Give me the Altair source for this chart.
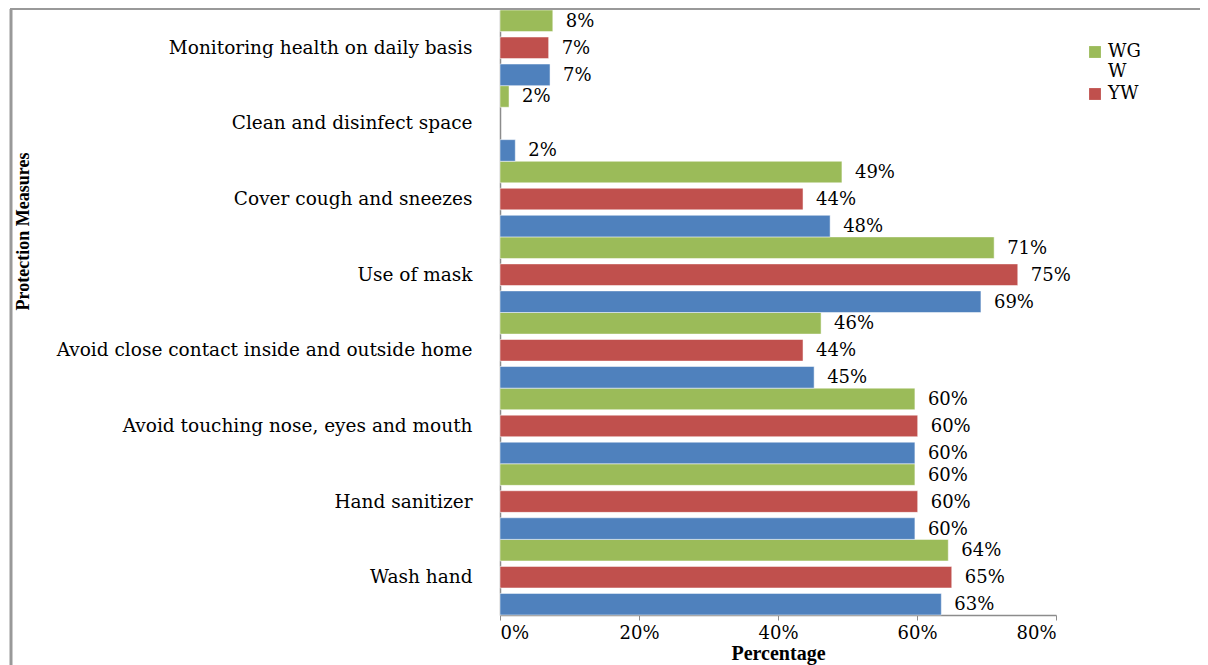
import altair as alt
import pandas as pd

categories = [
    "Monitoring health on daily basis",
    "Clean and disinfect space",
    "Cover cough and sneezes ",
    "Use of mask ",
    "Avoid close contact inside and outside home",
    "Avoid touching nose, eyes and mouth ",
    "Hand sanitizer",
    "Wash hand",
]
series = ["WGW", "YW", "OW"]
colors = ["#9BBB59", "#C0504D", "#4F81BD"]

# values (fractions), None = no bar
wgw_values = [0.076, 0.013, 0.492, 0.711, 0.462, 0.597, 0.597, 0.645]
yw_values = [0.070, None, 0.436, 0.745, 0.436, 0.601, 0.601, 0.650]
ow_values = [0.072, 0.022, 0.475, 0.692, 0.452, 0.597, 0.597, 0.635]
# printed data labels
wgw_labels = ["8%", "2%", "49%", "71%", "46%", "60%", "60%", "64%"]
yw_labels = ["7%", "", "44%", "75%", "44%", "60%", "60%", "65%"]
ow_labels = ["7%", "2%", "48%", "69%", "45%", "60%", "60%", "63%"]

rows = []
for s, vals, labs in zip(series, [wgw_values, yw_values, ow_values],
                         [wgw_labels, yw_labels, ow_labels]):
    for c, v, l in zip(categories, vals, labs):
        if v is None:
            continue
        rows.append({"category": c, "series": s, "value": v, "label": l})
df = pd.DataFrame(rows)

WIDE = "DejaVu Serif"
SERIF = "Liberation Serif"
GRAY = "#8c8c8c"

y_enc = alt.Y(
    "category:N",
    sort=categories,
    scale=alt.Scale(domain=categories, paddingInner=0, paddingOuter=0),
    axis=alt.Axis(
        title="Protection Measures",
        ticks=False,
        labelPadding=28,
        labelFont=WIDE,
        labelFontSize=18.5,
        labelColor="black",
        labelLimit=500,
        domainColor=GRAY,
        domainWidth=1.5,
        titleFont=SERIF,
        titleFontSize=18,
        titleFontWeight="bold",
        titleColor="black",
        titleX=-468,
        titleY=221,
        titleAnchor="middle",
    ),
)
yoff_enc = alt.YOffset(
    "series:N",
    scale=alt.Scale(domain=series, paddingInner=0.2, paddingOuter=0),
)
x_enc = alt.X(
    "value:Q",
    scale=alt.Scale(domain=[0, 0.8], nice=False),
    axis=alt.Axis(
        title="Percentage",
        format=".0%",
        values=[0, 0.2, 0.4, 0.6, 0.8],
        grid=False,
        tickSize=5,
        tickColor=GRAY,
        domainColor=GRAY,
        domainWidth=1.5,
        labelFont=WIDE,
        labelFontSize=18,
        labelColor="black",
        labelPadding=4,
        titleFont=SERIF,
        titleFontSize=20,
        titleFontWeight="bold",
        titleColor="black",
        titlePadding=1,
    ),
)

bars = alt.Chart(df).mark_bar(stroke="white", strokeWidth=0.5).encode(
    y=y_enc,
    yOffset=yoff_enc,
    x=x_enc,
    color=alt.Color(
        "series:N",
        scale=alt.Scale(domain=series, range=colors),
        legend=alt.Legend(
            title=None,
            values=["WGW", "YW"],
            orient="none",
            legendX=586,
            legendY=33,
            symbolType="square",
            symbolSize=140,
            symbolStrokeWidth=0,
            labelFont=WIDE,
            labelFontSize=18,
            labelColor="black",
            labelOffset=4,
            rowPadding=4,
            labelExpr="datum.label == 'WGW' ? ['WG', 'W'] : datum.label",
        ),
    ),
)

texts = alt.Chart(df).mark_text(
    align="left", baseline="middle", dx=13, dy=1, font=WIDE, fontSize=18, color="black"
).encode(
    y=alt.Y("category:N", sort=categories),
    yOffset=alt.YOffset("series:N"),
    x=alt.X("value:Q"),
    text="label:N",
)

frame_df = pd.DataFrame({"k": [0]})
top_line = alt.Chart(frame_df).mark_rule(color="#999999", strokeWidth=2).encode(
    x=alt.value(-490), x2=alt.value(720), y=alt.value(-1)
)
left_line = alt.Chart(frame_df).mark_rule(color="#999999", strokeWidth=3).encode(
    x=alt.value(-489), y=alt.value(-1), y2=alt.value(680)
)

chart = (
    alt.layer(bars, texts, top_line, left_line)
    .properties(
        width=556,
        height=605,
        autosize=alt.AutoSizeParams(type="none"),
        padding={"left": 492, "top": 2, "right": 144, "bottom": 52},
    )
    .configure_view(stroke=None)
)

chart.save("out.html", embed_options={"renderer": "svg", "actions": False})
